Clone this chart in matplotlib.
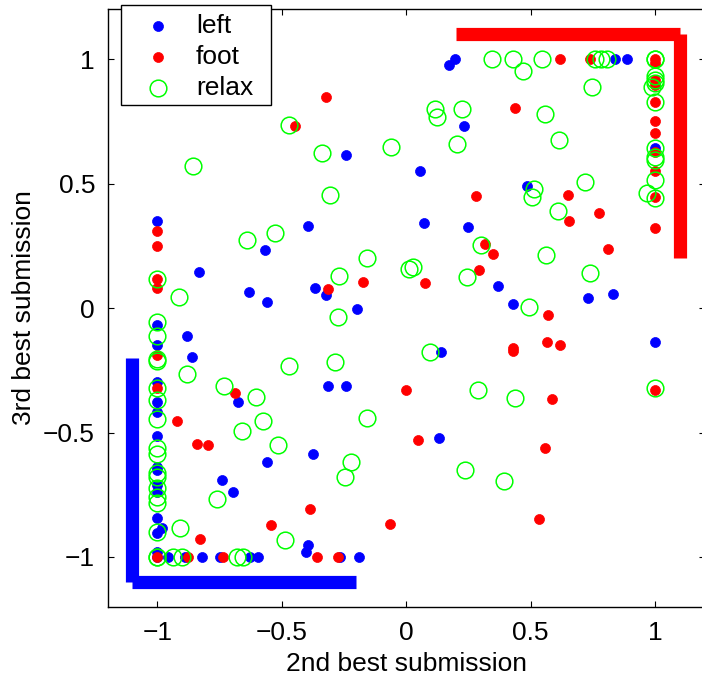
import matplotlib
matplotlib.use("Agg")
import matplotlib.pyplot as plt
from matplotlib.lines import Line2D
from matplotlib.patches import Rectangle

plt.rcParams['font.family'] = ['Liberation Sans', 'DejaVu Sans']
plt.rcParams['axes.unicode_minus'] = True

# ---- data ----
left_x = [-1, -1, -1, -1, -1, -1, -1, -1, -1, -1, -1, -1, -0.98, -1, -1, -1,
          -0.956, -0.889, -0.822, -0.748, -0.627, -0.597, -0.266, -0.189, -0.393, -0.402,
          0.195, 0.172, 0.840, 0.887, 0.234, -0.242, 0.057, 0.485, 1, 1,
          -0.396, 0.072, 0.248, 0.368, 0.428, 0.730, 0.832, -0.366, -0.323, -0.196,
          0.139, -0.315, -0.242, 0.133, -0.374, -0.560, -0.739, -0.694, -0.566, -0.832,
          -0.631, -0.561, -0.882, -0.859, -0.674]
left_y = [0.351, -0.068, -0.149, -0.296, -0.376, -0.416, -0.514, -0.637, -0.651, -0.711, -0.740, -0.842, -0.882, -0.902, -0.979, -1,
          -1, -1, -1, -1, -1, -1, -1, -1, -0.952, -0.979,
          1.0, 0.977, 1.0, 1.0, 0.730, 0.613, 0.551, 0.491, 0.641, -0.135,
          0.329, 0.343, 0.324, 0.088, 0.016, 0.041, 0.056, 0.079, 0.052, -0.005,
          -0.175, -0.313, -0.313, -0.523, -0.586, -0.617, -0.691, -0.740, 0.233, 0.146,
          0.063, 0.025, -0.112, -0.197, -0.379]

foot_x = [-0.447, -0.321, 0.280, 0.619, 0.739, 0.438, 0.652,
          1, 1, 1, 1, 1, 1, 1, 1, 1, 1, 1, 1,
          -1, -1, -1, -1, -1, -1, -0.922, -0.839, -0.797, -0.386, -0.828, -0.544,
          -1, -0.875, -0.735, -0.359, -0.275, 0.047, -0.063, 0.558, 0.535,
          0.317, 0.348, -0.173, 0.076, 0.293, -0.313, -0.002, 0.656, 0.775, 0.810,
          0.572, 0.428, 0.428, 0.568, 0.620, 0.585, -0.688]
foot_y = [0.731, 0.846, 0.451, 1.0, 1.0, 0.802, 0.454,
          1.0, 0.985, 0.916, 0.896, 0.829, 0.751, 0.701, 0.628, 0.551, 0.447, 0.322, -0.331,
          0.310, 0.250, 0.116, 0.079, -0.189, -0.323, -0.454, -0.546, -0.549, -0.808, -0.929, -0.871,
          -1, -1, -1, -1, -1, -0.531, -0.867, -0.561, -0.847,
          0.257, 0.217, 0.106, 0.099, 0.153, 0.076, -0.329, 0.349, 0.380, 0.238,
          -0.029, -0.162, -0.171, -0.135, -0.147, -0.365, -0.340]

relax_x = [-0.471, -0.855, 0.344, 0.431, 0.545, 0.469, 0.759, 0.782, 0.806, 0.748,
           0.116, 0.124, 0.223, -0.339, -0.062, 0.206, -0.305, 0.558, 0.616, 0.514,
           0.505, 0.719,
           1, 1, 1, 1, 1, 0.987, 1, 1, 1, 1, 1, 0.967, 1, 1,
           -1, -0.913, -1, -1, -1, -1, -0.882, -1, -1, -1, -1, -1, -1, -1, -1, -1,
           -1, -1, -1, -1, -0.936, -0.900, -0.681, -0.654, -0.910, -0.576, -0.661,
           -0.516, -0.759, -0.487, -0.158, -0.223, -0.246, 0.237, 0.393, 0.300,
           -0.158, -0.270, 0.012, 0.026, 0.244, -0.275, -0.286, 0.096, 0.290, 0.438,
           0.609, 0.561, 0.740, 0.493, -0.638, -0.527, -0.472, -0.731, -0.605]
relax_y = [0.735, 0.570, 1.0, 1.0, 1.0, 0.952, 1.0, 1.0, 1.0, 0.889,
           0.799, 0.768, 0.799, 0.622, 0.648, 0.660, 0.454, 0.778, 0.675, 0.478,
           0.447, 0.507,
           1.0, 1.0, 0.932, 0.916, 0.902, 0.889, 0.829, 0.641, 0.608, 0.594, 0.514, 0.461, 0.440, -0.321,
           0.116, 0.045, -0.055, -0.112, -0.205, -0.213, -0.266, -0.323, -0.369, -0.446, -0.564, -0.588, -0.664, -0.677, -0.724, -0.758,
           -0.784, -0.898, -1, -1, -1, -1, -1, -1, -0.882, -0.454, -0.494,
           -0.550, -0.767, -0.932, -0.440, -0.617, -0.679, -0.649, -0.694, 0.253,
           0.200, 0.130, 0.155, 0.165, 0.126, -0.035, -0.216, -0.178, -0.329, -0.363,
           0.390, 0.213, 0.139, 0.003, 0.274, 0.300, -0.233, -0.313, -0.359]

blue_corner_x = [-1.1, -1.1, -0.2]
blue_corner_y = [-0.2, -1.1, -1.1]
red_corner_x = [0.2, 1.1, 1.1]
red_corner_y = [1.1, 1.1, 0.2]

xticks = [-1, -0.5, 0, 0.5, 1]
yticks = [-1, -0.5, 0, 0.5, 1]
tick_labels = ['\u22121', '\u22120.5', '0', '0.5', '1']
legend_labels = ['left', 'foot', 'relax']

FS = 19
W, H = 702, 676

fig = plt.figure(figsize=(W / 100, H / 100), dpi=100)
ax = fig.add_axes([107.5 / W, 69.2 / H, 597.2 / W, 597.6 / H])

styles = [dict(marker='o', ms=7.2, mfc=(0, 0, 1), mec=(0, 0, 1), mew=0.5),
          dict(marker='o', ms=7.2, mfc=(1, 0, 0), mec=(1, 0, 0), mew=0.5),
          dict(marker='o', ms=12, mfc='none', mec=(0, 1, 0), mew=1.1)]

ax.plot(left_x, left_y, linestyle='none', label=legend_labels[0], **styles[0])
ax.plot(foot_x, foot_y, linestyle='none', label=legend_labels[1], **styles[1])
ax.plot(relax_x, relax_y, linestyle='none', label=legend_labels[2], **styles[2])

# L-shaped thick bars (two segments each, butt caps)
for xs, ys, col in [(blue_corner_x, blue_corner_y, (0, 0, 1)), (red_corner_x, red_corner_y, (1, 0, 0))]:
    ax.plot(xs[:2], ys[:2], color=col, lw=9.5, solid_capstyle='butt', clip_on=False)
    ax.plot(xs[1:], ys[1:], color=col, lw=9.5, solid_capstyle='butt', clip_on=False)

ax.set_xlim(-1.2, 1.2)
ax.set_ylim(-1.2, 1.2)
ax.set_xticks(xticks)
ax.set_xticklabels(tick_labels, fontsize=FS)
ax.set_yticks(yticks)
ax.set_yticklabels(tick_labels, fontsize=FS)
ax.tick_params(direction='in', length=4, width=0.8, top=True, right=True)
ax.tick_params(axis='x', pad=10)
ax.tick_params(axis='y', pad=9)
for s in ax.spines.values():
    s.set_linewidth(1.0)

ax.set_xlabel('2nd best submission', fontsize=FS, labelpad=5)
ax.set_ylabel('3rd best submission', fontsize=FS, labelpad=5)

# legend box (MATLAB style), placed in figure pixels
box = Rectangle((121 / W, 1 - 105 / H), 150 / W, 100 / H, transform=fig.transFigure,
                facecolor='white', edgecolor='black', linewidth=1.0, zorder=10)
fig.patches.append(box)
for i, (lab, st) in enumerate(zip(legend_labels, styles)):
    yy = 1 - (26 + 31 * i) / H
    fig.add_artist(Line2D([158 / W], [yy], linestyle='none', transform=fig.transFigure, zorder=11, **st))
    fig.text(196 / W, yy, lab, fontsize=FS, ha='left', va='center', zorder=11)

fig.savefig('out.png', dpi=100)
